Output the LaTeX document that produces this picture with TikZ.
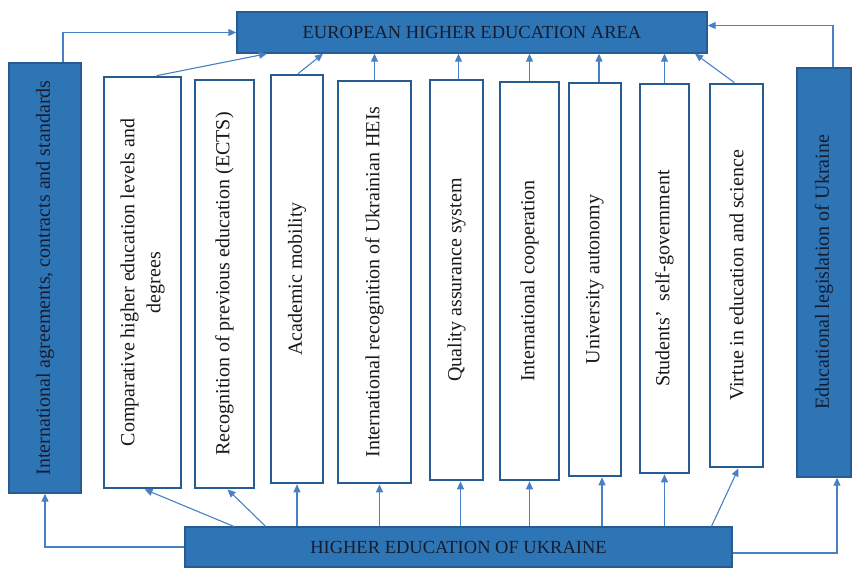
\documentclass[tikz,border=0pt]{standalone}
\usepackage{fontspec}
\setmainfont{Liberation Serif}
\usepackage{tikz}
\usetikzlibrary{arrows.meta, positioning, shapes}
\definecolor{boxblue}{RGB}{46, 117, 182}
\definecolor{edgeblue}{RGB}{38, 92, 145}
\definecolor{lineblue}{RGB}{72, 128, 196}
\definecolor{inkdark}{RGB}{22, 28, 45}

\tikzset{
  bigfont/.style={font=\fontsize{20}{26}\selectfont},
  areabox/.style={draw=edgeblue, line width=1.4pt, fill=boxblue, text=inkdark,
    font=\fontsize{18.5}{22}\selectfont},
  sidebox/.style={areabox, rotate=90, bigfont},
  itembox/.style={draw=edgeblue, line width=2.6pt, fill=white, text=black!90,
    rotate=90, align=center, bigfont},
  arr/.style={draw=lineblue, line width=1.1pt, -{Triangle[length=8pt,width=7pt]}}
}

\begin{document}
\begin{tikzpicture}[x=1pt,y=-1pt]
        \useasboundingbox (0,0) rectangle (856,570);
        \node[areabox,minimum width=470pt,minimum height=41pt] (ehea) at (472,32.5)
          {EUROPEAN HIGHER EDUCATION AREA};
        \node[areabox,minimum width=547pt,minimum height=40pt] (heu) at (458.5,547)
          {HIGHER EDUCATION OF UKRAINE};
        \node[sidebox,minimum width=430pt,minimum height=72pt] (intl) at (45,278)
          {International agreements, contracts and standards};
        \node[sidebox,minimum width=409pt,minimum height=54pt] (legis) at (824,272.5)
          {Educational legislation of Ukraine};

        \node[itembox,minimum width=411pt,minimum height=77pt] (b1) at (142.5,282.5)
          {Comparative higher education levels and\\degrees};
        \node[itembox,minimum width=408pt,minimum height=59pt] (b2) at (224.5,284)
          {Recognition of previous education (ECTS)};
        \node[itembox,minimum width=408pt,minimum height=52pt] (b3) at (297,279)
          {Academic mobility};
        \node[itembox,minimum width=402pt,minimum height=73pt] (b4) at (374.5,282)
          {International recognition of Ukrainian HEIs};
        \node[itembox,minimum width=400pt,minimum height=53pt] (b5) at (456.5,280)
          {Quality assurance system};
        \node[itembox,minimum width=398pt,minimum height=59pt] (b6) at (529.5,281)
          {International cooperation};
        \node[itembox,minimum width=393pt,minimum height=52pt] (b7) at (595,279.5)
          {University autonomy};
        \node[itembox,minimum width=389pt,minimum height=49pt] (b8) at (664.5,278.5)
          {Students'\ \ self-government};
        \node[itembox,minimum width=383pt,minimum height=53pt] (b9) at (736.5,275.5)
          {Virtue in education and science};

        % up into the european area
        \draw[arr] ([xshift=14pt]b1.east) -- ([xshift=-205pt]ehea.south);
        \draw[arr] ([xshift=1pt]b3.east) -- ([xshift=-149pt]ehea.south);
        \draw[arr] (b4.east) -- (b4.east |- ehea.south);
        \draw[arr] ([xshift=2pt]b5.east) -- ([xshift=2pt]b5.east |- ehea.south);
        \draw[arr] (b6.east) -- (b6.east |- ehea.south);
        \draw[arr] ([xshift=4pt]b7.east) -- ([xshift=4pt]b7.east |- ehea.south);
        \draw[arr] (b8.east) -- (b8.east |- ehea.south);
        \draw[arr] ([xshift=-2pt]b9.east) -- ([xshift=223pt]ehea.south);
        \draw[arr] ([xshift=18pt]intl.east) |- (ehea.west);
        \draw[arr] ([xshift=9pt]legis.east) |- ([yshift=7pt]ehea.east);

        % up from ukrainian higher education
        \draw[arr] ([xshift=-225pt]heu.north) -- ([xshift=2pt]b1.west);
        \draw[arr] ([xshift=-193pt]heu.north) -- ([xshift=3pt]b2.west);
        \draw[arr] (heu.north -| b3.west) -- (b3.west);
        \draw[arr] ([xshift=5pt]b4.west |- heu.north) -- ([xshift=5pt]b4.west);
        \draw[arr] ([xshift=4pt]b5.west |- heu.north) -- ([xshift=4pt]b5.west);
        \draw[arr] (heu.north -| b6.west) -- (b6.west);
        \draw[arr] ([xshift=7pt]b7.west |- heu.north) -- ([xshift=7pt]b7.west);
        \draw[arr] (heu.north -| b8.west) -- (b8.west);
        \draw[arr] ([xshift=253pt]heu.north) -- ([xshift=2pt]b9.west);
        \draw[arr] (heu.west) -| (intl.west);
        \draw[arr] ([yshift=-6pt]heu.east) -| ([xshift=13pt]legis.west);
      \end{tikzpicture}
\end{document}
